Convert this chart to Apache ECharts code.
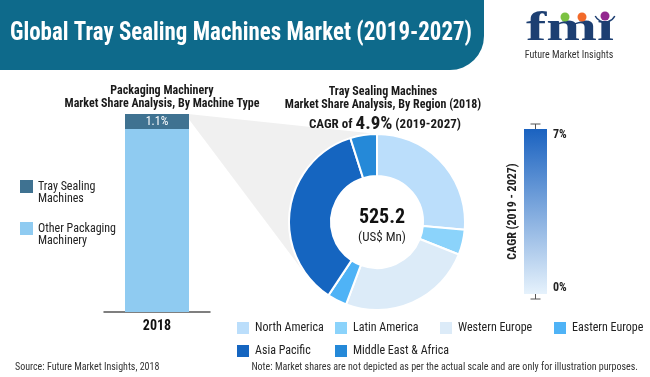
<!DOCTYPE html>
<html>
<head>
<meta charset="utf-8">
<script src="https://cdn.jsdelivr.net/npm/echarts@6/dist/echarts.min.js"></script>
<style>
  html, body { margin: 0; padding: 0; background: #fff; }
  #chart { width: 650px; height: 377px; }
</style>
</head>
<body>
<div id="chart"></div>
<script>
const FONT = "'Roboto Condensed', 'Liberation Sans Narrow', 'DejaVu Sans Condensed', Roboto, sans-serif";
const TITLE = 'Global Tray Sealing Machines Market (2019-2027)';

// left stacked bar: machine type share
const barYears = ['2018'];
const machineTypes = ['Tray Sealing Machines', 'Other Packaging Machinery'];
const trayShare = [1.1];
const otherShare = [98.9];

// donut: tray sealing machines by region, US$ Mn
const regions = ['North America', 'Latin America', 'Western Europe', 'Eastern Europe', 'Asia Pacific', 'Middle East & Africa'];
const regionValues = [138.7, 24.2, 129.7, 18.9, 188.0, 25.7];
const regionColors = ['#bbdefb', '#8bd3fb', '#dcebf8', '#4fb3f6', '#1565c0', '#2589d8'];
const marketTotal = 525.2;
const cagr = 4.9;

// CAGR colour scale
const cagrScale = [0, 7];

// squeeze the banner title to the width it has in the original
const ctx = document.createElement('canvas').getContext('2d');
ctx.font = 'bold 25px ' + FONT;
const titleScale = 462 / ctx.measureText(TITLE).width;

const chart = echarts.init(document.getElementById('chart'));

const regionLegend = (names, left) => ({
  data: names,
  orient: 'vertical',
  left: left,
  top: 320,
  padding: 0,
  itemWidth: 14,
  itemHeight: 14,
  itemGap: 7,
  icon: 'rect',
  selectedMode: false,
  textStyle: { fontFamily: FONT, fontSize: 12, color: '#222' }
});

const option = {
  animation: false,
  textStyle: { fontFamily: FONT },
  title: [
    {
      text: 'Packaging Machinery\nMarket Share Analysis, By Machine Type',
      left: 157, top: 79, textAlign: 'center',
      textStyle: { color: '#1a1a1a', fontSize: 12, fontWeight: 'bold', lineHeight: 13, fontFamily: FONT }
    },
    {
      text: 'Tray Sealing Machines\nMarket Share Analysis, By Region (2018)',
      left: 378, top: 80, textAlign: 'center',
      textStyle: { color: '#1a1a1a', fontSize: 12, fontWeight: 'bold', lineHeight: 13, fontFamily: FONT }
    },
    {
      text: '{a|CAGR of }{b|' + cagr + '%}{a| (2019-2027)}',
      left: 380, top: 110, textAlign: 'center',
      textStyle: {
        rich: {
          a: { color: '#1a1a1a', fontSize: 13, fontWeight: 'bold', fontFamily: FONT },
          b: { color: '#1a1a1a', fontSize: 19, fontWeight: 'bold', fontFamily: FONT }
        }
      }
    },
    {
      text: String(marketTotal),
      subtext: '(US$ Mn)',
      left: 377, top: 203, textAlign: 'center', itemGap: 3,
      textStyle: { color: '#111', fontSize: 20, fontWeight: 'bold', fontFamily: FONT },
      subtextStyle: { color: '#222', fontSize: 13, fontFamily: FONT }
    }
  ],
  legend: [
    {
      data: machineTypes,
      orient: 'vertical',
      left: 20, top: 168.5,
      padding: 0,
      itemWidth: 13, itemHeight: 13, itemGap: 6,
      icon: 'rect',
      selectedMode: false,
      formatter: name => {
        const w = name.split(' ');
        return ' \n' + w.slice(0, 2).join(' ') + '\n' + w.slice(2).join(' ');
      },
      textStyle: { fontFamily: FONT, fontSize: 12, color: '#222', lineHeight: 12 }
    },
    regionLegend(['North America', 'Asia Pacific'], 235),
    regionLegend(['Latin America', 'Middle East & Africa'], 333),
    regionLegend(['Western Europe'], 438),
    regionLegend(['Eastern Europe'], 552)
  ],
  grid: [
    { left: 104, width: 106, top: 127, height: 185 },
    { left: 524, width: 23, top: 129, height: 165 }
  ],
  xAxis: [
    {
      type: 'category', gridIndex: 0, data: barYears,
      axisLine: { lineStyle: { color: '#555', width: 1.5 } },
      axisTick: { show: false },
      axisLabel: { color: '#111', fontSize: 14, fontWeight: 'bold', margin: 7, fontFamily: FONT }
    },
    { type: 'category', gridIndex: 1, data: [''], show: false }
  ],
  yAxis: [
    { type: 'value', gridIndex: 0, min: 0, max: 100, show: false },
    {
      type: 'value', gridIndex: 1, min: cagrScale[0], max: cagrScale[1], interval: 7,
      position: 'right',
      axisLine: { show: false }, axisTick: { show: false }, splitLine: { show: false },
      axisLabel: {
        formatter: '{value}%', margin: 6, color: '#222', fontSize: 12, fontWeight: 'bold',
        fontFamily: FONT, verticalAlignMinLabel: 'bottom', verticalAlignMaxLabel: 'top'
      }
    },
    {
      type: 'value', gridIndex: 1, min: cagrScale[0], max: cagrScale[1],
      position: 'left',
      name: 'CAGR (2019 - 2027)', nameLocation: 'middle', nameRotate: 90, nameGap: 5,
      nameTextStyle: { color: '#222', fontSize: 12, fontWeight: 'bold', fontFamily: FONT },
      axisLine: { show: false }, axisTick: { show: false }, splitLine: { show: false },
      axisLabel: { show: false }
    }
  ],
  series: [
    {
      name: machineTypes[1], type: 'bar',
      xAxisIndex: 0, yAxisIndex: 0, barWidth: 64,
      data: otherShare,
      itemStyle: { color: '#8fcbf1' }
    },
    {
      // sits on top of the other share; drawn at least 15px tall (chart is not to scale)
      name: machineTypes[0], type: 'custom',
      xAxisIndex: 0, yAxisIndex: 0,
      data: trayShare.map((v, i) => [i, otherShare[i], v]),
      encode: { x: 0, y: 1 },
      itemStyle: { color: '#3f7291' },
      renderItem: (params, api) => {
        const base = api.coord([api.value(0), api.value(1)]);
        const top = api.coord([api.value(0), api.value(1) + api.value(2)]);
        const h = Math.max(base[1] - top[1], 15);
        return {
          type: 'rect',
          shape: { x: base[0] - 32, y: base[1] - h, width: 64, height: h },
          style: { fill: api.visual('color') },
          textContent: {
            style: { text: api.value(2) + '%', fill: '#fff', font: '12px ' + FONT }
          },
          textConfig: { position: 'inside' }
        };
      }
    },
    {
      name: 'CAGR scale', type: 'bar',
      xAxisIndex: 1, yAxisIndex: 1, barWidth: 23,
      data: [cagrScale[1]],
      itemStyle: {
        color: new echarts.graphic.LinearGradient(0, 0, 0, 1, [
          { offset: 0, color: '#1a62c0' },
          { offset: 1, color: '#e6f2fc' }
        ])
      },
      silent: true
    },
    {
      name: 'CAGR caps', type: 'custom',
      xAxisIndex: 1, yAxisIndex: 1,
      data: cagrScale.map(v => [0, v]),
      encode: { x: 0, y: 1 },
      silent: true,
      renderItem: (params, api) => {
        const p = api.coord([0, api.value(1)]);
        const dir = api.value(1) > 0 ? -1 : 1;
        const st = { stroke: '#555', lineWidth: 1 };
        return {
          type: 'group',
          children: [
            { type: 'line', shape: { x1: p[0], y1: p[1], x2: p[0], y2: p[1] + dir * 5 }, style: st },
            { type: 'line', shape: { x1: p[0] - 5, y1: p[1] + dir * 5, x2: p[0] + 5, y2: p[1] + dir * 5 }, style: st }
          ]
        };
      }
    },
    {
      name: 'Region', type: 'pie',
      center: [377, 222], radius: [46, 88],
      startAngle: 90, clockwise: true,
      label: { show: false }, labelLine: { show: false },
      itemStyle: { borderColor: '#fff', borderWidth: 2 },
      data: regions.map((n, i) => ({ name: n, value: regionValues[i], itemStyle: { color: regionColors[i] } }))
    }
  ],
  graphic: [
    {
      type: 'rect', z: 0,
      shape: { x: 0, y: 0, width: 484, height: 70, r: [0, 0, 34, 0] },
      style: { fill: '#0e6a8b' }
    },
    {
      type: 'text', x: 10, y: 34, scaleX: titleScale, z: 1,
      style: { text: TITLE, fill: '#fff', font: 'bold 25px ' + FONT, verticalAlign: 'middle' }
    },
    {
      type: 'polygon', z: 0,
      shape: { points: [[188, 114], [387, 135], [377, 222], [306, 275], [188, 118]] },
      style: { fill: '#f0f0f0' }
    },
    {
      type: 'circle', z: 1,
      shape: { cx: 377, cy: 222, r: 46 },
      style: { fill: '#fff' }
    },
    // logo
    {
      type: 'text', x: 526, y: 50, scaleX: 1.45,
      style: { text: 'fm\u0131', fill: '#1d3f72', font: 'bold 42px "Liberation Serif", "DejaVu Serif", serif', verticalAlign: 'bottom' }
    },
    { type: 'circle', shape: { cx: 565, cy: 17, r: 4.5 }, style: { fill: '#7cc242' } },
    { type: 'circle', shape: { cx: 582, cy: 17, r: 4.5 }, style: { fill: '#f26a2a' } },
    { type: 'circle', shape: { cx: 605, cy: 16, r: 4.5 }, style: { fill: '#93278f' } },
    {
      type: 'arc', shape: { cx: 605, cy: 11, r: 11, startAngle: Math.PI * 0.15, endAngle: Math.PI * 0.85 },
      style: { stroke: '#1d3f72', lineWidth: 1.5, fill: null }
    },
    {
      type: 'text', x: 569, y: 55,
      style: { text: 'Future Market Insights', fill: '#333', font: '10px ' + FONT, align: 'center', verticalAlign: 'middle' }
    },
    // footer
    {
      type: 'text', x: 15, y: 367,
      style: { text: 'Source: Future Market Insights, 2018', fill: '#333', font: '10px ' + FONT, verticalAlign: 'middle' }
    },
    {
      type: 'text', x: 638, y: 367,
      style: { text: 'Note: Market shares are not depicted as per the actual scale and are only for illustration purposes.', fill: '#333', font: '10px ' + FONT, align: 'right', verticalAlign: 'middle' }
    }
  ]
};

chart.setOption(option);
</script>
</body>
</html>
